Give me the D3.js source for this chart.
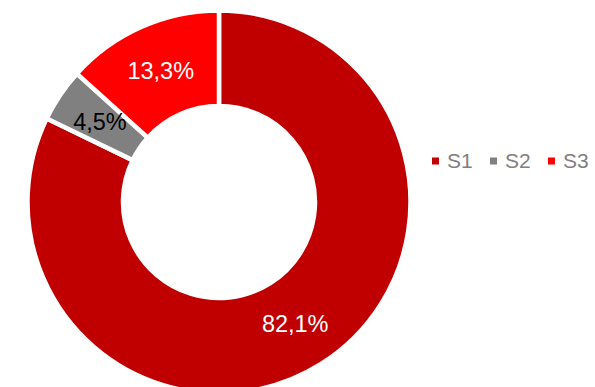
<!DOCTYPE html>
<html><head><meta charset="utf-8">
<script src="https://cdn.jsdelivr.net/npm/d3@7"></script>
<style>html,body{margin:0;padding:0;background:#fff;}svg{display:block;}</style>
</head><body>
<svg id="chart" width="595" height="387"></svg>
<script>
const categories = ["S1", "S2", "S3"];
const values = [82.1, 4.5, 13.3];
const labels = ["82,1%", "4,5%", "13,3%"];
const colors = ["#C00000", "#808080", "#FF0000"];
const labelColors = ["#ffffff", "#000000", "#ffffff"];

const svg = d3.select("#chart");
const cx = 219, cy = 202, R = 191.5, r = 96;
const g = svg.append("g").attr("transform", `translate(${cx},${cy})`);
const pie = d3.pie().sort(null).value(d => d)(values);
const arc = d3.arc().innerRadius(r).outerRadius(R);
const labelArc = d3.arc().innerRadius(143.5).outerRadius(143.5);

g.selectAll("path").data(pie).enter().append("path")
  .attr("d", arc)
  .attr("fill", (d, i) => colors[i])
  .attr("stroke", "#fff")
  .attr("stroke-width", 4.5)
  .attr("stroke-linejoin", "miter");

g.selectAll("text").data(pie).enter().append("text")
  .attr("x", d => labelArc.centroid(d)[0])
  .attr("y", d => labelArc.centroid(d)[1])
  .attr("text-anchor", "middle")
  .attr("dominant-baseline", "central")
  .attr("font-family", "Liberation Sans, Arial, sans-serif")
  .attr("font-size", 23.5)
  .attr("fill", (d, i) => labelColors[i])
  .text((d, i) => labels[i]);

const legendX = [432, 490, 548];
const legend = svg.append("g");
categories.forEach((c, i) => {
  legend.append("rect").attr("x", legendX[i]).attr("y", 157.5).attr("width", 7).attr("height", 7).attr("fill", colors[i]);
  legend.append("text").attr("x", legendX[i] + 15).attr("y", 167.5)
    .attr("font-family", "Liberation Sans, Arial, sans-serif")
    .attr("font-size", 21).attr("fill", "#808080").text(c);
});
</script>
</body></html>
